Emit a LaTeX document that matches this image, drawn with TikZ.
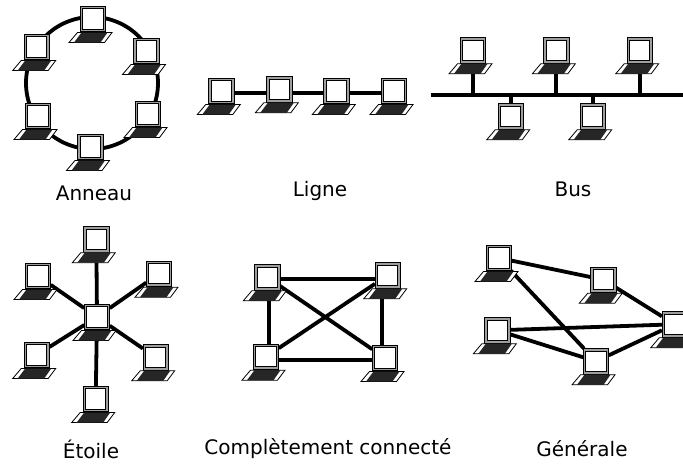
\documentclass[tikz,border=0pt]{standalone}
\usepackage{fontspec}
\setmainfont{DejaVu Sans}
\usetikzlibrary{backgrounds}
\definecolor{framegray}{gray}{0.62}
\definecolor{keygray}{gray}{0.15}
\tikzset{
  screen/.style={rectangle,draw=black,line width=0.8pt,fill=framegray,minimum width=25.5pt,minimum height=25.5pt,inner sep=0pt,outer sep=0pt},
  pane/.style={draw=black,line width=0.9pt,fill=white},
  keyboard/.style={draw=black,line width=0.8pt,fill=white},
  keys/.style={fill=keygray},
  link/.style={line width=3.8pt,draw=black},
  caption/.style={font=\fontsize{20}{24}\selectfont,text=black,inner sep=0pt}
}
\newcommand\laptop[2]{%
  \node[screen] (#1) at (#2) {};
  \begin{scope}[shift={(#1.center)}]
    \draw[pane] (-10.2,-10.2) rectangle (10.2,10.2);
    \draw[keyboard] (-15.5,13.5) -- (19,13.5) -- (11.5,23.5) -- (-24,23.5) -- cycle;
    \fill[keys] (-11.5,13.5) -- (14.5,13.5) -- (7.5,23.5) -- (-19,23.5) -- cycle;
  \end{scope}}
\begin{document}
\begin{tikzpicture}[x=1pt,y=-1pt]
\useasboundingbox (0,0) rectangle (683,464);
% Anneau
\laptop{ra}{93,19}
\laptop{rb}{146.5,51}
\laptop{rc}{148,114}
\laptop{rd}{90.5,147}
\laptop{re}{38,116}
\laptop{rf}{36.7,47}
\node[caption] (capa) at (94,193) {Anneau};
% Ligne
\laptop{la}{221.3,91}
\laptop{lb}{279.3,89.3}
\laptop{lc}{336.3,91}
\laptop{ld}{394,91}
\node[caption] (capb) at (320,191) {Ligne};
% Bus
\laptop{ba}{473,50.3}
\laptop{bb}{556.3,50.3}
\laptop{bc}{639.7,50.3}
\laptop{bd}{510.7,116.3}
\laptop{be}{592.7,116.3}
\coordinate (busl) at (431,95);
\coordinate (busr) at (683,95);
\node[caption] (capc) at (573,189) {Bus};
% Etoile
\laptop{sa}{96.3,239.2}
\laptop{sb}{159,273.7}
\laptop{sc}{155.7,357.3}
\laptop{sd}{95.7,399}
\laptop{se}{36.7,355}
\laptop{sf}{38,276}
\laptop{sg}{97,317}
\node[caption] (capd) at (91,449) {Étoile};
% Complet
\laptop{ca}{267.3,277.3}
\laptop{cb}{387.7,275.3}
\laptop{cc}{266,356.7}
\laptop{cd}{385,358}
\node[caption] (cape) at (328,449) {Complètement connecté};
% Generale
\laptop{ga}{499,258}
\laptop{gb}{603.3,279.7}
\laptop{gc}{497.3,330.3}
\laptop{gd}{596,361.3}
\laptop{ge}{674.7,324.3}
\node[caption] (capf) at (582,449) {Générale};
\begin{pgfonlayer}{background}
\node[draw=black,line width=3.8pt,circle,minimum size=132pt,inner sep=0pt] (ring) at (92,83) {};
\draw[link] ([yshift=-2.3pt]la.east) -- ([yshift=-4pt]lb.west);
\draw[link] ([yshift=-4pt]lb.east) -- ([yshift=-2.3pt]lc.west);
\draw[link] ([yshift=-2.3pt]lc.east) -- ([yshift=-2.3pt]ld.west);
\draw[link] (busl) -- (busr);
\draw[link] (ba.south) -- (ba.south |- busl);
\draw[link] (bb.south) -- (bb.south |- busl);
\draw[link] (bc.south) -- (bc.south |- busl);
\draw[link] (bd.north) -- (bd.north |- busl);
\draw[link] (be.north) -- (be.north |- busl);
\foreach \n in {sa,sb,sc,sd,se,sf}{\draw[link] (sg) -- (\n);}
\draw[link] ([yshift=-1.7pt]ca.east) -- ([yshift=-3.7pt]cb.west);
\draw[link] ([xshift=1.7pt]ca.south) -- ([xshift=3pt]cc.north);
\draw[link] (ca) -- (cd);
\draw[link] (cb) -- (cc);
\draw[link] ([xshift=-5.7pt]cb.south) -- ([xshift=-3pt]cd.north);
\draw[link] ([yshift=-3.3pt]cc.east) -- ([yshift=-2pt]cd.west);
\draw[link] (ga) -- (gb);
\draw[link] (ga) -- (gd);
\draw[link] (gb) -- (ge);
\draw[link] (gc) -- (ge);
\draw[link] (gc) -- (gd);
\draw[link] (gd) -- (ge);
\end{pgfonlayer}
\end{tikzpicture}
\end{document}
